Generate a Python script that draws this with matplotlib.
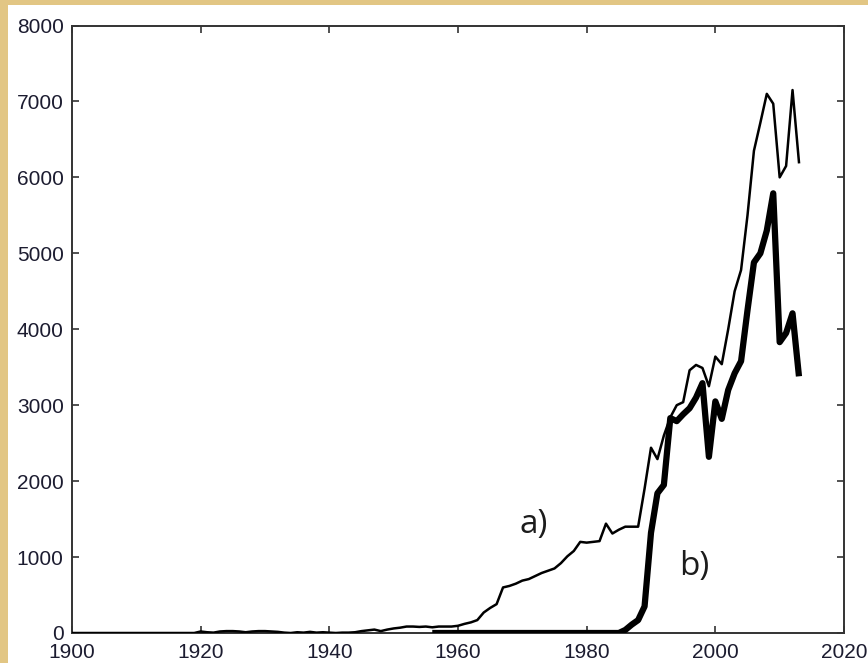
import matplotlib
matplotlib.use("Agg")
import matplotlib.pyplot as plt
from matplotlib.patches import Rectangle

# ---- data ----
years_a = list(range(1900, 2014))
values_a = ([0] * 20 +
            [20, 10, 5, 20, 25, 25, 20, 10, 20, 25,
             25, 20, 15, 5, 0, 10, 5, 15, 5, 10,
             5, 0, 5, 5, 10, 25, 35, 45, 25, 45,
             60, 70, 85, 85, 80, 85, 75, 85, 85, 85,
             95, 120, 140, 170, 270, 330, 380, 600, 620, 650,
             690, 710, 750, 790, 820, 850, 920, 1010, 1080, 1200,
             1190, 1200, 1210, 1440, 1310, 1360, 1400, 1400, 1400, 1900,
             2440, 2290, 2600, 2840, 3000, 3040, 3460, 3530, 3490, 3250,
             3640, 3540, 4000, 4500, 4780, 5500, 6350, 6720, 7100, 6970,
             6000, 6150, 7150, 6200])

years_b = list(range(1956, 2014))
values_b = ([0] * 30 +
            [40, 110, 170, 350,
             1320, 1840, 1950, 2830, 2790, 2880, 2960, 3100, 3290, 2320,
             3050, 2820, 3200, 3420, 3580, 4250, 4880, 5000, 5300, 5790,
             3830, 3950, 4210, 3380])

x_ticks = [1900, 1920, 1940, 1960, 1980, 2000, 2020]
y_ticks = [0, 1000, 2000, 3000, 4000, 5000, 6000, 7000, 8000]
label_a = "a)"
label_b = "b)"

# ---- figure ----
W, H = 868, 663
fig = plt.figure(figsize=(W / 100, H / 100), dpi=100, facecolor="#e2c684")
bg = fig.add_axes([8 / W, 0, 1 - 8 / W, 1 - 5 / H], zorder=-5)
bg.set_facecolor("white")
bg.set_axis_off()
bg.add_patch(Rectangle((0, 0), 1, 1, transform=bg.transAxes,
                       facecolor="white", edgecolor="none"))

ax = fig.add_axes([72 / W, 1 - 633 / H, (844 - 72) / W, (633 - 25.5) / H], zorder=1)
ax.set_facecolor("white")

ax.plot(years_a, values_a, color="black", lw=1.8, solid_joinstyle="round", zorder=3)
ax.plot(years_b, values_b, color="black", lw=4.5, solid_joinstyle="round",
        solid_capstyle="butt", zorder=4)

ax.set_xlim(1900, 2020)
ax.set_ylim(0, 8000)
ax.set_xticks(x_ticks)
ax.set_yticks(y_ticks)
ax.set_xticklabels([str(t) for t in x_ticks])
ax.set_yticklabels([str(t) for t in y_ticks])

tick_color = "#1c1c30"
ax.tick_params(axis="both", direction="in", length=5, width=1.2, color="#333333",
               labelsize=15, labelcolor=tick_color, top=True, right=True)
ax.tick_params(axis="x", pad=7)
ax.tick_params(axis="y", pad=6)
for lab in ax.get_xticklabels() + ax.get_yticklabels():
    lab.set_fontfamily("Liberation Sans")

for sp in ax.spines.values():
    sp.set_color("#333333")
    sp.set_linewidth(1.4)

ax.text(1971.7, 1430, label_a, fontsize=24, color="#1c1c1c",
        family="Open Sans", ha="center", va="center")
ax.text(1996.8, 870, label_b, fontsize=24, color="#1c1c1c",
        family="Open Sans", ha="center", va="center")

fig.savefig("out.png", dpi=100, facecolor=fig.get_facecolor())
